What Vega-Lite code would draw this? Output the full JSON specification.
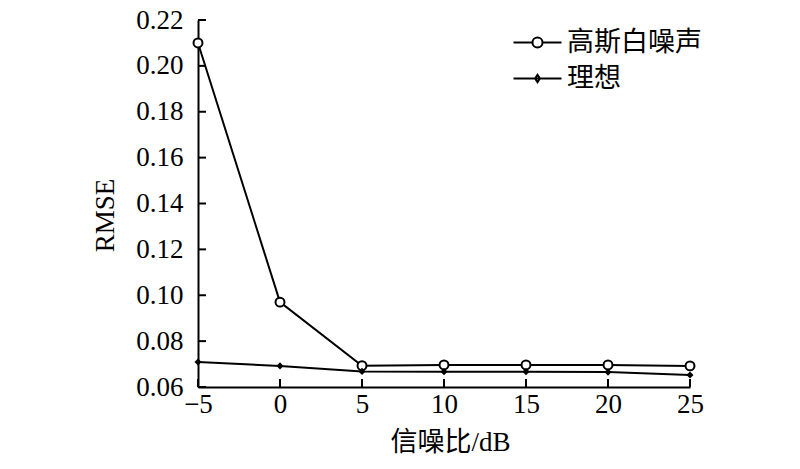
{
  "$schema": "https://vega.github.io/schema/vega-lite/v6.json",
  "width": 492,
  "height": 367,
  "autosize": "none",
  "padding": {"left": 198, "top": 20, "right": 110, "bottom": 82},
  "background": "white",
  "config": {
    "view": {"stroke": null},
    "axis": {
      "grid": false,
      "domainColor": "black",
      "domainWidth": 2,
      "labelFlush": false,
      "labelFont": "Liberation Serif",
      "labelFontSize": 27,
      "labelColor": "black",
      "titleFont": "Liberation Serif, Noto Sans CJK SC",
      "titleFontSize": 27,
      "titleFontWeight": "normal",
      "titleColor": "black"
    }
  },
  "datasets": {
    "curves": [
      {"snr": -5, "rmse": 0.210, "series": "高斯白噪声"},
      {"snr": 0, "rmse": 0.097, "series": "高斯白噪声"},
      {"snr": 5, "rmse": 0.0693, "series": "高斯白噪声"},
      {"snr": 10, "rmse": 0.0696, "series": "高斯白噪声"},
      {"snr": 15, "rmse": 0.0696, "series": "高斯白噪声"},
      {"snr": 20, "rmse": 0.0696, "series": "高斯白噪声"},
      {"snr": 25, "rmse": 0.0692, "series": "高斯白噪声"},
      {"snr": -5, "rmse": 0.0709, "series": "理想"},
      {"snr": 0, "rmse": 0.0692, "series": "理想"},
      {"snr": 5, "rmse": 0.0668, "series": "理想"},
      {"snr": 10, "rmse": 0.0667, "series": "理想"},
      {"snr": 15, "rmse": 0.0667, "series": "理想"},
      {"snr": 20, "rmse": 0.0665, "series": "理想"},
      {"snr": 25, "rmse": 0.0652, "series": "理想"}
    ],
    "xticks": [{"v": -5}, {"v": 0}, {"v": 5}, {"v": 10}, {"v": 15}, {"v": 20}, {"v": 25}],
    "yticks": [{"v": 0.06}, {"v": 0.08}, {"v": 0.10}, {"v": 0.12}, {"v": 0.14}, {"v": 0.16}, {"v": 0.18}, {"v": 0.20}, {"v": 0.22}]
  },
  "resolve": {"axis": {"x": "independent", "y": "independent"}},
  "layer": [
    {
      "data": {"name": "curves"},
      "mark": {"type": "line", "color": "black", "strokeWidth": 2},
      "encoding": {
        "x": {
          "field": "snr", "type": "quantitative",
          "scale": {"domain": [-5, 25], "nice": false, "zero": false},
          "axis": {"orient": "bottom", "values": [-5, 0, 5, 10, 15, 20, 25], "title": "信噪比/dB", "ticks": false, "labelPadding": 4, "titlePadding": 12, "titleX": 252}
        },
        "y": {
          "field": "rmse", "type": "quantitative",
          "scale": {"domain": [0.06, 0.22], "nice": false, "zero": false},
          "axis": {"orient": "left", "values": [0.06, 0.08, 0.10, 0.12, 0.14, 0.16, 0.18, 0.20, 0.22], "format": ".2f", "title": "RMSE", "ticks": false, "labelPadding": 15, "titlePadding": 16, "titleY": 195}
        },
        "detail": {"field": "series", "type": "nominal"}
      }
    },
    {
      "data": {"name": "xticks"},
      "mark": {"type": "tick", "orient": "vertical", "size": 8, "thickness": 2, "color": "black", "opacity": 1, "yOffset": -4},
      "encoding": {
        "x": {"field": "v", "type": "quantitative", "axis": null},
        "y": {"datum": 0.06, "type": "quantitative", "axis": null}
      }
    },
    {
      "data": {"name": "yticks"},
      "mark": {"type": "tick", "orient": "horizontal", "size": 8, "thickness": 2, "color": "black", "opacity": 1, "xOffset": 4},
      "encoding": {
        "x": {"datum": -5, "type": "quantitative", "axis": null},
        "y": {"field": "v", "type": "quantitative", "axis": null}
      }
    },
    {
      "data": {"name": "curves"},
      "transform": [{"filter": "datum.series === '高斯白噪声'"}],
      "mark": {"type": "point", "shape": "circle", "size": 80, "filled": false, "fill": "white", "fillOpacity": 1, "stroke": "black", "strokeWidth": 2, "opacity": 1},
      "encoding": {
        "x": {"field": "snr", "type": "quantitative", "axis": null},
        "y": {"field": "rmse", "type": "quantitative", "axis": null}
      }
    },
    {
      "data": {"name": "curves"},
      "transform": [{"filter": "datum.series === '理想'"}],
      "mark": {"type": "point", "shape": "diamond", "size": 50, "filled": true, "color": "black", "opacity": 1},
      "encoding": {
        "x": {"field": "snr", "type": "quantitative", "axis": null},
        "y": {"field": "rmse", "type": "quantitative", "axis": null}
      }
    },
    {
      "data": {"name": "curves"},
      "mark": {"type": "point", "filled": false, "color": "black", "opacity": 0},
      "encoding": {
        "x": {"field": "snr", "type": "quantitative", "axis": null},
        "y": {"field": "rmse", "type": "quantitative", "axis": null},
        "shape": {
          "field": "series", "type": "nominal",
          "scale": {
            "domain": ["高斯白噪声", "理想"],
            "range": [
              "M-2,0H-0.42M0.42,0H2M-0.42,0A0.42,0.42,0,1,1,0.42,0A0.42,0.42,0,1,1,-0.42,0Z",
              "M-2,0H2M-0.2,0L0,-0.3L0.2,0L0,0.3Z"
            ]
          },
          "legend": {
            "title": null,
            "orient": "none",
            "legendX": 326,
            "legendY": 9,
            "symbolSize": 576,
            "symbolOpacity": 1,
            "symbolStrokeColor": "black",
            "symbolStrokeWidth": 2,
            "symbolFillColor": "transparent",
            "labelFont": "Noto Sans CJK SC",
            "labelFontSize": 27,
            "labelColor": "black",
            "labelOffset": 16,
            "rowPadding": 8,
            "labelLimit": 300
          }
        }
      }
    }
  ]
}
